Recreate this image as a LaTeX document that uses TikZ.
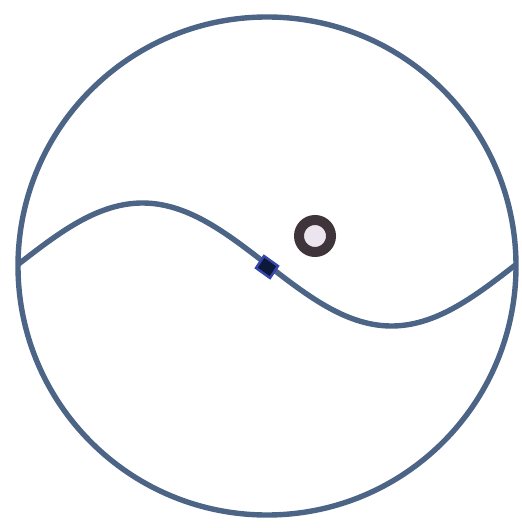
\documentclass[tikz,border=0pt]{standalone}
\usetikzlibrary{calc}
\begin{document}
\begin{tikzpicture}[x=0.5pt,y=-0.5pt,
  wire/.style={draw=wirecol,line width=2.7pt},
]
\definecolor{wirecol}{RGB}{76,100,134}
\definecolor{ringcol}{RGB}{62,52,58}
\definecolor{ringfill}{RGB}{236,228,238}
\definecolor{diamcol}{RGB}{14,24,58}
\useasboundingbox (0,0) rectangle (522,528);
\fill[white] (0,0) rectangle (522,528);
% outer circle
\coordinate (c) at (267,266);
\draw[wire] (c) circle[radius=249];
% S curve
\coordinate (L) at (18,263);
\coordinate (R) at (516,266);
\draw[wire] plot[domain=0:1,samples=120,smooth] ({18+498*\x},{264.5-61.5*sin(360*\x)});
% central diamond
\coordinate (m) at (267,267);
\fill[diamcol,draw=wirecol!70!blue,line width=1.2pt] ($(m)+(-3,-11)$) -- ($(m)+(11,-1)$) -- ($(m)+(3,11)$) -- ($(m)+(-11,1)$) -- cycle;
% ring
\coordinate (o) at (315,236);
\draw[ringcol,line width=5pt,fill=ringfill] (o) circle[radius=16];
\end{tikzpicture}
\end{document}
